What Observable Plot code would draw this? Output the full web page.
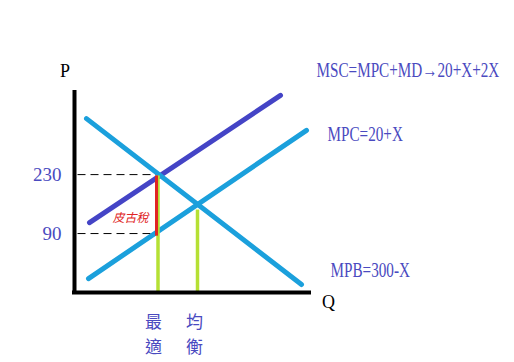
<!DOCTYPE html>
<html><head><meta charset="utf-8">
<script src="https://cdn.jsdelivr.net/npm/d3@7"></script>
<script src="https://cdn.jsdelivr.net/npm/@observablehq/plot@0.6"></script>
<style>
html,body{margin:0;padding:0;background:#fff;}
</style></head><body><div id="chart"></div>
<script>
// Curves (hand-drawn diagram)
const curveNames = ["MSC", "MPB", "MPC"];
const curveLabels = ["MSC=MPC+MD→20+X+2X", "MPB=300-X", "MPC=20+X"];
const qStart = [15, 12, 14];
const qEnd = [206, 227, 232];
const pStart = [116, 363, -17];
const pEnd = [418, -31, 335];

// Key quantities / prices
const qOpt = 82;      // 最適
const qEq = 123;      // 均衡
const pHigh = 230;
const pLow = 90;
const pEqTop = 147;
const pTicks = [90, 230];
const qTicks = [qOpt, qEq];
const qTickLabels = ["最\n適", "均\n衡"];
const taxLabel = ["皮古稅"];
const axisNames = ["P", "Q"];

const curves = curveNames.map((n, i) => ({name: n, q1: qStart[i], q2: qEnd[i], p1: pStart[i], p2: pEnd[i]}));
const dashes = [{p: pHigh, q: qOpt}, {p: pLow, q: qOpt}];

const serif = "Liberation Serif";
const blue = "#4a4ac0";

const chart = Plot.plot({
  width: 514, height: 362,
  marginLeft: 74, marginRight: 200, marginTop: 92, marginBottom: 70,
  x: {domain: [0, 240]},
  y: {domain: [-50, 425]},
  color: {domain: curveNames, range: ["#4444c6", "#1ba0dc", "#1ba0dc"]},
  style: {fontFamily: serif, background: "#fff"},
  marks: [
    Plot.link(dashes, {x1: 3, x2: "q", y1: "p", y2: "p", stroke: "#000", strokeWidth: 1, strokeDasharray: "8,5"}),
    Plot.link(curves, {x1: "q1", x2: "q2", y1: "p1", y2: "p2", stroke: "name", strokeWidth: 5, strokeLinecap: "round"}),
    Plot.link([qOpt], {x1: d => d + 1.5, x2: d => d + 1.5, y1: pHigh - 2, y2: -50, stroke: "#b5e034", strokeWidth: 3.5}),
    Plot.link([qEq], {x1: d => d, x2: d => d, y1: pEqTop, y2: -50, stroke: "#b5e034", strokeWidth: 3.5}),
    Plot.link([qOpt], {x1: d => d, x2: d => d, y1: pHigh - 2, y2: pLow - 5, stroke: "#e02424", strokeWidth: 3}),
    Plot.ruleX([0], {y1: -50, y2: 430, stroke: "#000", strokeWidth: 4}),
    Plot.ruleY([-50], {x1: -2, x2: 237, stroke: "#000", strokeWidth: 4}),
    Plot.axisY({ticks: pTicks, tickSize: 0, tickPadding: 13, fontSize: 19, fill: blue, label: null}),
    Plot.axisX({ticks: qTicks, tickSize: 0, tickPadding: 18, tickFormat: d => qTickLabels[qTicks.indexOf(d)],
      fontSize: 17, lineHeight: 1.45, fill: blue, fontFamily: "Noto Sans CJK TC", dx: -3, label: null}),
    Plot.text([curveLabels[0]], {x: 242, y: 476, text: d => d, textAnchor: "start", fontSize: 20, fill: blue}),
    Plot.text([curveLabels[2]], {x: 253, y: 326, text: d => d, textAnchor: "start", fontSize: 20, fill: blue}),
    Plot.text([curveLabels[1]], {x: 256, y: 2, text: d => d, textAnchor: "start", fontSize: 20, fill: blue}),
    Plot.text(taxLabel, {x: 56, y: 126, text: d => d, fontSize: 12, fill: "#e02424", fontStyle: "italic", fontFamily: "Noto Sans CJK TC"}),
    Plot.text([axisNames[0]], {x: -9.5, y: 475, text: d => d, fontSize: 18, fill: "#000"}),
    Plot.text([axisNames[1]], {x: 254, y: -74, text: d => d, fontSize: 18, fill: "#000"})
  ]
});
document.getElementById("chart").appendChild(chart);
// condense the formula labels horizontally (the reference uses a narrow face)
d3.select(chart).selectAll("text")
  .filter(function() { return curveLabels.includes(this.textContent); })
  .each(function() {
    const t = this.getAttribute("transform") || "";
    this.setAttribute("transform", t + " scale(0.76,1)");
  });
</script></body></html>
